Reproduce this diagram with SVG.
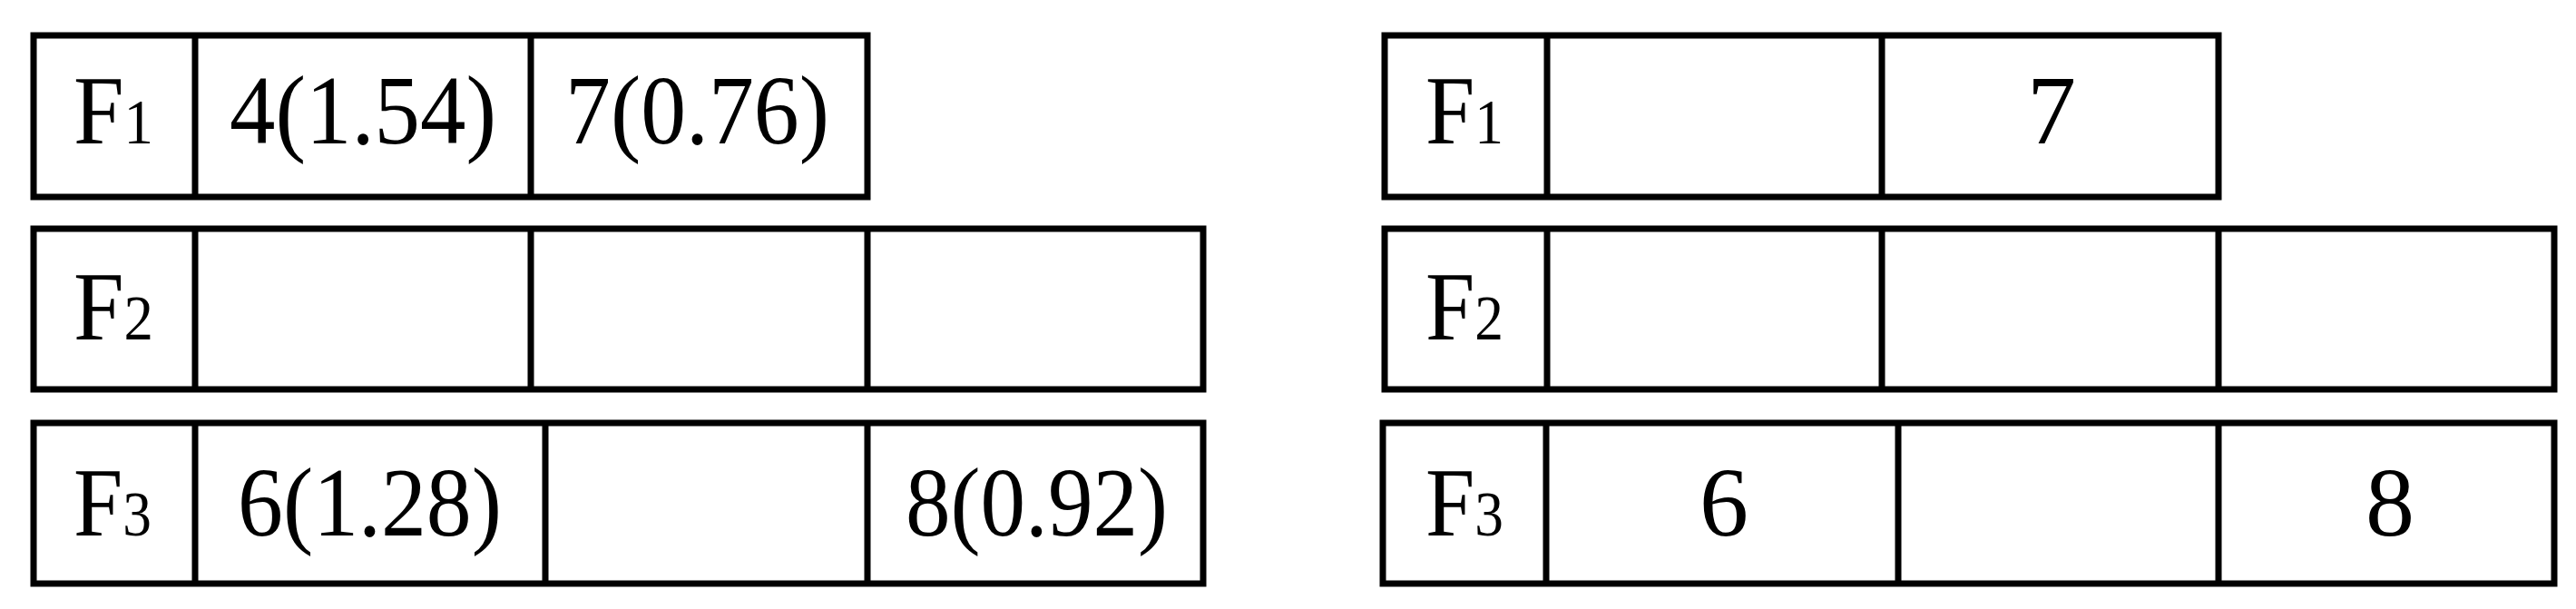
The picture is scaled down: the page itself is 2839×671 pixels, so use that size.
<svg xmlns="http://www.w3.org/2000/svg" width="2839" height="671" viewBox="0 0 2839 671">
<style>
.b rect,.b line{fill:none;stroke:#000;stroke-width:7}
text{font-family:"Liberation Serif","Times New Roman",serif;font-size:108px;fill:#000}
.s{font-size:70px}
.c{text-anchor:middle}
</style>
<rect width="2839" height="671" fill="#fff"/>
<g id="left" class="b">
<g id="L1"><rect x="37" y="39" width="919" height="178"/><line x1="215" y1="39" x2="215" y2="217"/><line x1="585" y1="39" x2="585" y2="217"/>
<text x="81" y="158" textLength="88" lengthAdjust="spacingAndGlyphs">F<tspan class="s">1</tspan></text>
<text x="253" y="158" textLength="294" lengthAdjust="spacingAndGlyphs">4(1.54)</text>
<text x="623" y="158" textLength="291" lengthAdjust="spacingAndGlyphs">7(0.76)</text></g>
<g id="L2"><rect x="37" y="252" width="1289" height="177"/><line x1="215" y1="252" x2="215" y2="429"/><line x1="585" y1="252" x2="585" y2="429"/><line x1="956" y1="252" x2="956" y2="429"/>
<text x="81" y="374" textLength="88" lengthAdjust="spacingAndGlyphs">F<tspan class="s">2</tspan></text></g>
<g id="L3"><rect x="37" y="466" width="1289" height="177"/><line x1="215" y1="466" x2="215" y2="643"/><line x1="601" y1="466" x2="601" y2="643"/><line x1="956" y1="466" x2="956" y2="643"/>
<text x="81" y="590" textLength="86" lengthAdjust="spacingAndGlyphs">F<tspan class="s">3</tspan></text>
<text x="262" y="590" textLength="291" lengthAdjust="spacingAndGlyphs">6(1.28)</text>
<text x="998" y="590" textLength="289" lengthAdjust="spacingAndGlyphs">8(0.92)</text></g>
</g>
<g id="right" class="b">
<g id="R1"><rect x="1526" y="39" width="919" height="178"/><line x1="1705" y1="39" x2="1705" y2="217"/><line x1="2074" y1="39" x2="2074" y2="217"/>
<text x="1571" y="158" textLength="86" lengthAdjust="spacingAndGlyphs">F<tspan class="s">1</tspan></text>
<text x="2261" y="158" class="c">7</text></g>
<g id="R2"><rect x="1526" y="252" width="1289" height="177"/><line x1="1705" y1="252" x2="1705" y2="429"/><line x1="2074" y1="252" x2="2074" y2="429"/><line x1="2445" y1="252" x2="2445" y2="429"/>
<text x="1571" y="374" textLength="86" lengthAdjust="spacingAndGlyphs">F<tspan class="s">2</tspan></text></g>
<g id="R3"><rect x="1524" y="466" width="1291" height="177"/><line x1="1704" y1="466" x2="1704" y2="643"/><line x1="2092" y1="466" x2="2092" y2="643"/><line x1="2445" y1="466" x2="2445" y2="643"/>
<text x="1571" y="590" textLength="86" lengthAdjust="spacingAndGlyphs">F<tspan class="s">3</tspan></text>
<text x="1900" y="590" class="c">6</text>
<text x="2634" y="590" class="c">8</text></g>
</g>
<g id="connectors"/>
</svg>
